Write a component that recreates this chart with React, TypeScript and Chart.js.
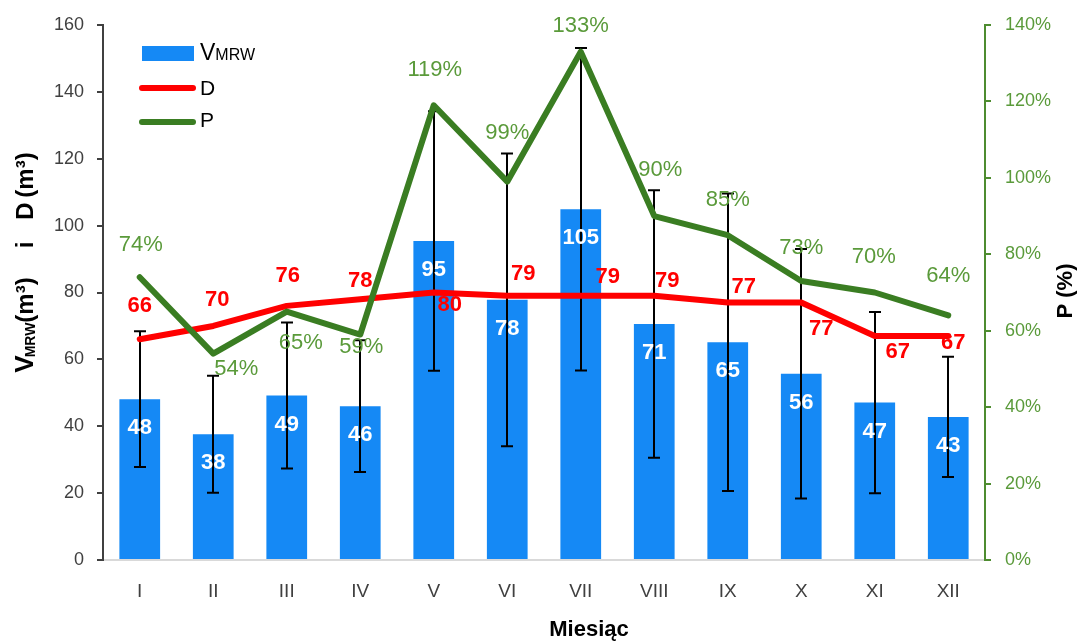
import React, { useEffect, useRef } from "react";
import { Chart, registerables } from "chart.js";

Chart.register(...registerables);

const FONT = "'Liberation Sans', Arial, sans-serif";

const months = ["I", "II", "III", "IV", "V", "VI", "VII", "VIII", "IX", "X", "XI", "XII"];
const vmrw = [48.1, 37.6, 49.2, 46.0, 95.4, 77.8, 104.9, 70.6, 65.1, 55.7, 47.1, 42.8];
const vmrwSd = [20.3, 17.5, 21.8, 19.7, 38.8, 43.8, 48.2, 40.0, 44.5, 37.3, 27.1, 18.0];
const dVals = [66, 70, 76, 78, 80, 79, 79, 79, 77, 77, 67, 67];
const pVals = [74, 54, 65, 59, 119, 99, 133, 90, 85, 73, 70, 64];

const leftTicksMax = 160;
const rightTicksMax = 140;

// label offsets (px) relative to the point
const dLabelOffsets: [number, number][] = [
  [0, -33], [4, -26], [1, -30], [0, -18], [16, 12], [16, -22],
  [27, -19], [13, -15], [16, -16], [20, 26], [23, 16], [5, 7],
];
const pLabelOffsets: [number, number][] = [
  [1, -32], [23, 15], [14, 31], [1, 12], [1, -35], [0, -49],
  [0, -26], [6, -46], [0, -35], [0, -33], [-1, -36], [0, -39],
];

const BLUE = "#1589F5";
const RED = "#FF0000";
const GREEN = "#3A7D22";
const GREEN_TXT = "#5A9A3A";
const GREEN_AXIS = "#4E8C30";
const DARK = "#404040";

const overlay = {
  id: "overlay",
  afterDatasetDraw(chart: any, args: any) {
    if (args.index !== 0) return;
    const ctx = chart.ctx;
    const xs = chart.scales.x;
    const ys = chart.scales.y;
    ctx.save();
    ctx.strokeStyle = "#000";
    ctx.lineWidth = 2;
    vmrw.forEach((v, i) => {
      const px = Math.round(xs.getPixelForValue(i));
      const top = ys.getPixelForValue(v + vmrwSd[i]);
      const bot = ys.getPixelForValue(v - vmrwSd[i]);
      ctx.beginPath();
      ctx.moveTo(px, top);
      ctx.lineTo(px, bot);
      ctx.moveTo(px - 6, top);
      ctx.lineTo(px + 6, top);
      ctx.moveTo(px - 6, bot);
      ctx.lineTo(px + 6, bot);
      ctx.stroke();
    });
    ctx.restore();
  },
  afterDatasetsDraw(chart: any) {
    const ctx = chart.ctx;
    const xs = chart.scales.x;
    const ys = chart.scales.y;
    const y1 = chart.scales.y1;
    ctx.save();
    ctx.textAlign = "center";
    ctx.textBaseline = "middle";
    // bar labels
    ctx.font = `bold 22px ${FONT}`;
    ctx.fillStyle = "#FFFFFF";
    vmrw.forEach((v, i) => {
      ctx.fillText(String(Math.round(v)), xs.getPixelForValue(i), ys.getPixelForValue(v) + 29);
    });
    // D labels
    ctx.fillStyle = RED;
    dVals.forEach((v, i) => {
      const [dx, dy] = dLabelOffsets[i];
      ctx.fillText(String(v), xs.getPixelForValue(i) + dx, ys.getPixelForValue(v) + dy);
    });
    // P labels
    ctx.font = `22px ${FONT}`;
    ctx.fillStyle = GREEN_TXT;
    pVals.forEach((v, i) => {
      const [dx, dy] = pLabelOffsets[i];
      ctx.fillText(v + "%", xs.getPixelForValue(i) + dx, y1.getPixelForValue(v) + dy);
    });
    ctx.restore();
  },
  afterDraw(chart: any) {
    const ctx = chart.ctx;
    ctx.save();
    // Legend
    ctx.fillStyle = BLUE;
    ctx.fillRect(142, 46, 52, 15);
    ctx.lineCap = "round";
    ctx.lineWidth = 6;
    ctx.strokeStyle = RED;
    ctx.beginPath();
    ctx.moveTo(142, 88);
    ctx.lineTo(193, 88);
    ctx.stroke();
    ctx.strokeStyle = GREEN;
    ctx.beginPath();
    ctx.moveTo(142, 122);
    ctx.lineTo(193, 122);
    ctx.stroke();
    ctx.fillStyle = "#000";
    ctx.textAlign = "left";
    ctx.textBaseline = "alphabetic";
    ctx.font = `23px ${FONT}`;
    ctx.fillText("V", 200, 60);
    const vw = ctx.measureText("V").width;
    ctx.font = `16px ${FONT}`;
    ctx.fillText("MRW", 200 + vw, 60);
    ctx.font = `21px ${FONT}`;
    ctx.fillText("D", 200, 95);
    ctx.fillText("P", 200, 127);

    // Left axis title (rotated)
    ctx.save();
    ctx.translate(0, 0);
    ctx.rotate(-Math.PI / 2);
    ctx.textAlign = "center";
    ctx.textBaseline = "alphabetic";
    ctx.fillStyle = "#000";
    const seg = (txt: string, size: number, yc: number, base: number) => {
      ctx.font = `bold ${size}px ${FONT}`;
      ctx.fillText(txt, -yc, base);
    };
    seg("V", 26, 364, 33);
    seg("MRW", 14, 340, 35);
    seg("(m³)", 24, 300, 33);
    seg("i", 24, 245, 33);
    seg("D", 24, 211, 33);
    seg("(m³)", 24, 175, 33);
    ctx.restore();

    // Right axis title
    ctx.save();
    ctx.translate(1066, 291);
    ctx.rotate(-Math.PI / 2);
    ctx.textAlign = "center";
    ctx.textBaseline = "middle";
    ctx.font = `bold 22px ${FONT}`;
    ctx.fillStyle = "#000";
    ctx.fillText("P (%)", 0, 0);
    ctx.restore();

    // X title
    ctx.textAlign = "center";
    ctx.textBaseline = "middle";
    ctx.font = `bold 22px ${FONT}`;
    ctx.fillStyle = "#000";
    ctx.fillText("Miesiąc", 589, 630);
    ctx.restore();
  },
};

export default function App() {
  const ref = useRef<HTMLCanvasElement | null>(null);
  useEffect(() => {
    if (!ref.current) return;
    const chart = new Chart(ref.current, {
      type: "bar",
      data: {
        labels: months,
        datasets: [
          {
            type: "bar",
            label: "VMRW",
            data: vmrw,
            backgroundColor: BLUE,
            barPercentage: 0.554,
            categoryPercentage: 1,
            order: 3,
            yAxisID: "y",
          },
          {
            type: "line",
            label: "D",
            data: dVals,
            borderColor: RED,
            backgroundColor: RED,
            borderWidth: 6,
            pointRadius: 0,
            pointHoverRadius: 0,
            borderCapStyle: "round",
            borderJoinStyle: "round",
            tension: 0,
            order: 2,
            yAxisID: "y",
          },
          {
            type: "line",
            label: "P",
            data: pVals,
            borderColor: GREEN,
            backgroundColor: GREEN,
            borderWidth: 6,
            pointRadius: 0,
            pointHoverRadius: 0,
            borderCapStyle: "round",
            borderJoinStyle: "round",
            tension: 0,
            order: 1,
            yAxisID: "y1",
          },
        ] as any,
      },
      options: {
        responsive: false,
        animation: false,
        devicePixelRatio: 1,
        layout: { padding: { top: 25, left: 0, right: 0, bottom: 0 } },
        plugins: {
          legend: { display: false },
          tooltip: { enabled: false },
        },
        scales: {
          x: {
            grid: { display: false, drawTicks: false },
            border: { display: true, color: "#D9D9D9", width: 2 },
            ticks: {
              font: { family: FONT, size: 19 },
              color: DARK,
              padding: 20,
              maxRotation: 0,
            },
            afterFit: (s: any) => {
              s.height = 81;
            },
          },
          y: {
            position: "left",
            min: 0,
            max: leftTicksMax,
            grid: {
              display: true,
              drawOnChartArea: false,
              drawTicks: true,
              tickLength: 6,
              color: DARK,
              lineWidth: 2,
            },
            border: { display: true, color: DARK, width: 2 },
            ticks: {
              stepSize: 20,
              font: { family: FONT, size: 18 },
              color: DARK,
              padding: 13,
            },
            afterFit: (s: any) => {
              s.width = 103;
            },
          },
          y1: {
            position: "right",
            min: 0,
            max: rightTicksMax,
            grid: {
              display: true,
              drawOnChartArea: false,
              drawTicks: true,
              tickLength: 6,
              color: GREEN_AXIS,
              lineWidth: 2,
            },
            border: { display: true, color: GREEN_AXIS, width: 2 },
            ticks: {
              stepSize: 20,
              font: { family: FONT, size: 18 },
              color: GREEN_TXT,
              padding: 14,
              callback: (v: any) => v + "%",
            },
            afterFit: (s: any) => {
              s.width = 96;
            },
          },
        },
      } as any,
      plugins: [overlay],
    });
    return () => chart.destroy();
  }, []);

  return (
    <div style={{ position: "fixed", left: 0, top: 0, width: 1081, height: 641, background: "#fff" }}>
      <canvas ref={ref} width={1081} height={641} style={{ display: "block", width: 1081, height: 641 }} />
    </div>
  );
}
